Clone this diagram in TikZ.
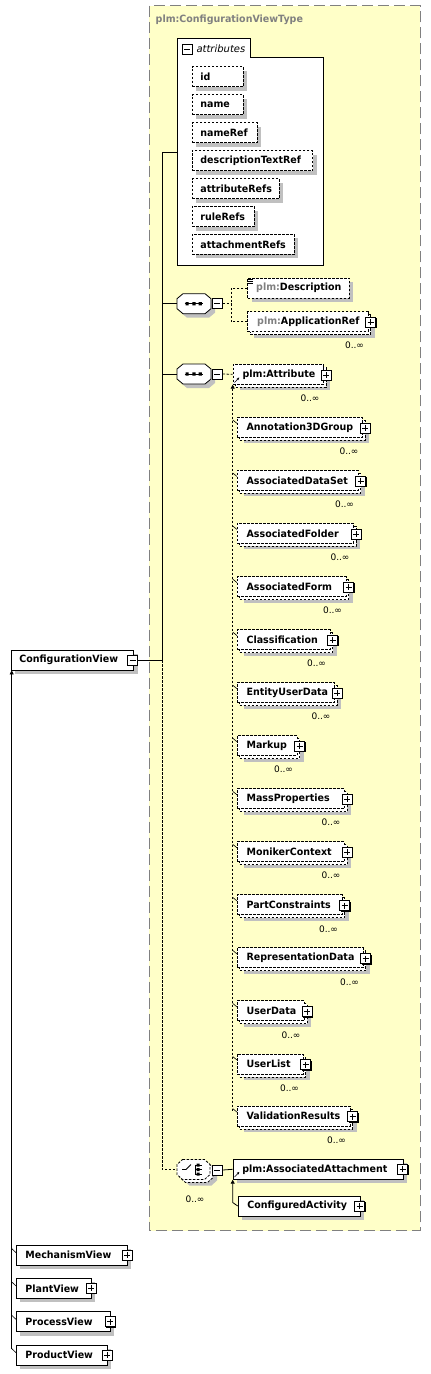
\documentclass[tikz,border=0pt]{standalone}
\usepackage{fontspec}
\setmainfont{DejaVu Sans}[BoldFeatures={FakeStretch=0.95}]
\usetikzlibrary{arrows.meta,shadows,calc}
\definecolor{yel}{HTML}{FFFFC8}
\definecolor{shad}{HTML}{C0C0C0}
\definecolor{ttl}{HTML}{808080}
\tikzset{
  efont/.style={font=\fontsize{10}{12}\selectfont\bfseries},
  cfont/.style={font=\fontsize{9}{10}\selectfont},
  boxbase/.style={fill=white, line width=.8pt, minimum height=20pt, inner sep=0pt, efont, anchor=west},
  solidbox/.style={boxbase, draw=black},
  dashbox/.style={boxbase, draw=black, dash pattern=on 2.5pt off 1.5pt},
  shadowed/.style={drop shadow={shadow xshift=4pt, shadow yshift=-4pt, fill=shad, opacity=1}},
  conn/.style={line width=.8pt, black},
  dconn/.style={conn, dash pattern=on 2.5pt off 1.5pt},
  uptip/.style={{Triangle[length=4pt,width=4pt]}-},
  plusb/.style={draw=black, fill=white, line width=.8pt, minimum size=10pt, inner sep=0pt,
    drop shadow={shadow xshift=1pt, shadow yshift=-1pt, fill=black, opacity=1},
    path picture={\draw[line width=.8pt] ([xshift=2pt]path picture bounding box.west) -- ([xshift=-2pt]path picture bounding box.east) ([yshift=-2pt]path picture bounding box.north) -- ([yshift=2pt]path picture bounding box.south);}},
  minusb/.style={draw=black, fill=white, line width=.8pt, minimum size=10pt, inner sep=0pt,
    path picture={\draw[line width=.8pt] ([xshift=2pt]path picture bounding box.west) -- ([xshift=-2pt]path picture bounding box.east);}},
  card/.style={cfont, inner sep=0pt},
}
% attribute box: name, x0, x1, yc, text
\newcommand\attb[5]{%
  \pgfmathsetmacro\bw{#3-#2}%
  \node[dashbox, shadowed, minimum width=\bw pt] (#1) at (#2,#4) {\makebox[\bw pt][l]{\hspace*{8.3pt}#5}};}
% single element box with plus: name, x0, R, yc, text, style
\newcommand\elemb[6]{%
  \pgfmathsetmacro\bw{#3-#2}%
  \node[#6, shadowed, minimum width=\bw pt] (#1) at (#2,#4) {\makebox[\bw pt][l]{\hspace*{9.3pt}#5}};
  \node[plusb] (#1p) at (#3,#4) {};}
% multiple dashed element: name, x0, R (plus centre), yc, text
\newcommand\member[5]{%
  \pgfmathsetmacro\bw{#3-#2-3}%
  \fill[shad] (#2+7,#4-3) rectangle (#3+4,#4+16);
  \draw[fill=white, line width=.8pt, dash pattern=on 2.5pt off 1.5pt] (#2+3,#4-7) rectangle (#3,#4+13);
  \node[dashbox, minimum width=\bw pt] (#1) at (#2,#4) {\makebox[\bw pt][l]{\hspace*{9.5pt}#5}};
  \node[plusb] (#1p) at (#3,#4+0.7) {};
  \node[card] (#1c) at (#3-16,#4+24) {0..∞};}
% sequence compositor: name, cx, cy
\newcommand\seqcomp[3]{%
  \fill[shad, shift={(4,4)}] (#2-11,#3-10) -- (#2+11,#3-10) -- (#2+17,#3-5) -- (#2+17,#3+5) -- (#2+11,#3+10) -- (#2-11,#3+10) -- (#2-17,#3+5) -- (#2-17,#3-5) -- cycle;
  \draw[fill=white, line width=.8pt] (#2-11,#3-10) -- (#2+11,#3-10) -- (#2+17,#3-5) -- (#2+17,#3+5) -- (#2+11,#3+10) -- (#2-11,#3+10) -- (#2-17,#3+5) -- (#2-17,#3-5) -- cycle;
  \node[inner sep=0pt, minimum width=34pt, minimum height=20pt] (#1) at (#2,#3) {};
  \draw[line width=.8pt] (#2-9.5,#3) -- (#2+9,#3);
  \fill (#2-8.5,#3-1.6) rectangle (#2-5.3,#3+1.6) (#2-1.6,#3-1.6) rectangle (#2+1.6,#3+1.6) (#2+4.6,#3-1.6) rectangle (#2+7.8,#3+1.6);
  \node[minusb] (#1m) at (#2+23.3,#3) {};}
\begin{document}
\begin{tikzpicture}[x=1pt,y=-1pt]
\useasboundingbox (0,0) rectangle (431,1374);
\fill[white] (0,0) rectangle (431,1374);
% type container
\draw[ttl, line width=1pt, dash pattern=on 11pt off 5pt, fill=yel] (149.3,5.7) rectangle (420,1230.7);
\node[efont, text=ttl, anchor=west, inner sep=0pt] (typename) at (155.5,19.3) {plm:ConfigurationViewType};
% attributes group
\draw[fill=white, line width=.8pt] (177.3,38.3) -- (250,38.3) -- (250,57.3) -- (323.3,57.3) -- (323.3,265) -- (177.3,265) -- cycle;
\coordinate (attrgrp) at (177.3,152);
\node[minusb] (attrm) at (187.3,49.3) {};
\node[anchor=west, inner sep=0pt, font=\fontsize{10}{12}\selectfont\itshape] (attrl) at (196.3,48.3) {attributes};
\attb{aid}{191.7}{242.7}{76.7}{id}
\attb{aname}{191.7}{242.7}{104.7}{name}
\attb{anref}{191.7}{256.7}{132.7}{nameRef}
\attb{adesc}{191.7}{312.3}{160.5}{descriptionTextRef}
\attb{aattr}{191.7}{278.7}{188.5}{attributeRefs}
\attb{arule}{191.7}{254}{216.5}{ruleRefs}
\attb{aatt}{191.7}{294}{244.3}{attachmentRefs}
% compositors
\seqcomp{seq1}{194}{303.7}
\seqcomp{seq2}{194}{374}
% description & application ref
\node[dashbox, shadowed, minimum width=101.4pt] (desc) at (247.3,288) {\makebox[101.4pt][l]{\hspace*{8.5pt}{\color{ttl}plm:}Description}};
\draw[line width=.6pt] (248.3,279.3) -- (253.3,279.3) (248.3,281.3) -- (253.3,281.3) (248.3,283.3) -- (253.3,283.3);
\member{appref}{247.3}{370.5}{321.7}{{\color{ttl}plm:}ApplicationRef}
\coordinate (br1) at (231,303.7);
\draw[dconn] (seq1m.east) -- (br1);
\draw[dconn] (desc.west) -| (br1);
\draw[dconn] (appref.west) -| (br1);
% substitution group of plm:Attribute
\member{patt}{232.7}{326}{374.3}{plm:Attribute}
\draw[-{Stealth[length=2.5pt,width=2.5pt]}, line width=.6pt] (234.5,382.5) -- (239.3,377.5);
\draw[dconn] (seq2m.east) -- (patt.west);
\member{m1}{236.7}{365}{427.3}{Annotation3DGroup}
\member{m2}{236.7}{360.5}{480.4}{AssociatedDataSet}
\member{m3}{236.7}{356}{533.4}{AssociatedFolder}
\member{m4}{236.7}{348.5}{586.5}{AssociatedForm}
\member{m5}{236.7}{332.5}{639.5}{Classification}
\member{m6}{236.7}{337}{692.6}{EntityUserData}
\member{m7}{236.7}{299.5}{745.6}{Markup}
\member{m8}{236.7}{347}{798.7}{MassProperties}
\member{m9}{236.7}{347}{851.7}{MonikerContext}
\member{m10}{236.7}{344.5}{904.8}{PartConstraints}
\member{m11}{236.7}{365.5}{957.8}{RepresentationData}
\member{m12}{236.7}{307}{1010.8}{UserData}
\member{m13}{236.7}{305.5}{1063.9}{UserList}
\member{m14}{236.7}{352.5}{1116}{ValidationResults}
\coordinate (sgEnd) at (232.7,1112);
\draw[dconn, uptip] (patt.south west) -- (sgEnd);
\foreach \m in {m1,m2,m3,m4,m5,m6,m7,m8,m9,m10,m11,m12,m13,m14}{
  \draw[conn, line width=.6pt] ($(\m.north west)+(-4,3)$) -- ($(\m.north west)+(0.3,6.5)$);
}
% choice compositor
\fill[shad, shift={(7,6)}] (182.5,1159.5) -- (204.5,1159.5) -- (210,1164.5) -- (210,1174.5) -- (204.5,1179.5) -- (182.5,1179.5) -- (177,1174.5) -- (177,1164.5) -- cycle;
\draw[fill=white, line width=.8pt, dash pattern=on 2.5pt off 1.5pt, shift={(3,3)}] (182.5,1159.5) -- (204.5,1159.5) -- (210,1164.5) -- (210,1174.5) -- (204.5,1179.5) -- (182.5,1179.5) -- (177,1174.5) -- (177,1164.5) -- cycle;
\draw[fill=white, line width=.8pt, dash pattern=on 2.5pt off 1.5pt] (182.5,1159.5) -- (204.5,1159.5) -- (210,1164.5) -- (210,1174.5) -- (204.5,1179.5) -- (182.5,1179.5) -- (177,1174.5) -- (177,1164.5) -- cycle;
\node[inner sep=0pt, minimum width=33pt, minimum height=20pt] (ch) at (193.5,1169.5) {};
\draw[line width=.8pt] (182,1169.5) -- (186,1169.5) -- (191,1164.5);
\draw[line width=.8pt] (195.5,1164.5) -- (195.5,1174.5) (195.5,1165) -- (202,1165) (195.5,1169.5) -- (202,1169.5) (195.5,1174) -- (202,1174);
\fill (196.5,1163.5) rectangle (199.5,1166.5) (196.5,1168) rectangle (199.5,1171) (196.5,1172.5) rectangle (199.5,1175.5);
\node[minusb] (chm) at (217.3,1170) {};
\node[card] (chc) at (195,1199) {0..∞};
% attachment
\elemb{aatt2}{232.7}{402.5}{1169.3}{plm:AssociatedAttachment}{solidbox}
\draw[-{Stealth[length=2.5pt,width=2.5pt]}, line width=.6pt] (234.5,1177) -- (239.3,1172);
\elemb{cact}{237.7}{359.5}{1206}{ConfiguredActivity}{solidbox}
\draw[conn] (chm.east) -- (aatt2.west);
\coordinate (caBend) at (232.7,1202.5);
\draw[conn, uptip] (aatt2.south west) -- (caBend) -- (cact.west);
% main element
\node[solidbox, shadowed, minimum width=122.6pt] (cv) at (10.7,660) {\makebox[122.6pt][l]{\hspace*{8.3pt}ConfigurationView}};
\node[minusb] (cvm) at (132.5,660) {};
% spine
\coordinate (spTop) at (162.3,152);
\coordinate (spCV) at (162.3,660);
\coordinate (spBot) at (162.3,1169.5);
\draw[conn] (spTop) -- (attrgrp);
\draw[conn] (spTop) -- (spCV);
\draw[conn] (cvm.east) -- (spCV);
\draw[conn] (seq1.west) -- (seq1.west -| spTop);
\draw[conn] (seq2.west) -- (seq2.west -| spTop);
\draw[dconn] (spCV) -- (spBot) -- (ch.west);
% derived views
\elemb{mech}{15.7}{127}{1255}{MechanismView}{solidbox}
\elemb{plant}{15.7}{91}{1288.3}{PlantView}{solidbox}
\elemb{proc}{15.7}{110}{1321.7}{ProcessView}{solidbox}
\elemb{prod}{15.7}{107}{1355}{ProductView}{solidbox}
\coordinate (dvEnd) at (11.7,1348.5);
\draw[conn, uptip] ([xshift=1pt]cv.south west) -- (dvEnd);
\foreach \v in {mech,plant,proc,prod}{
  \draw[conn, line width=.6pt] ($(\v.north west)+(-4,4)$) -- ($(\v.north west)+(0.3,8)$);
}
\end{tikzpicture}
\end{document}
